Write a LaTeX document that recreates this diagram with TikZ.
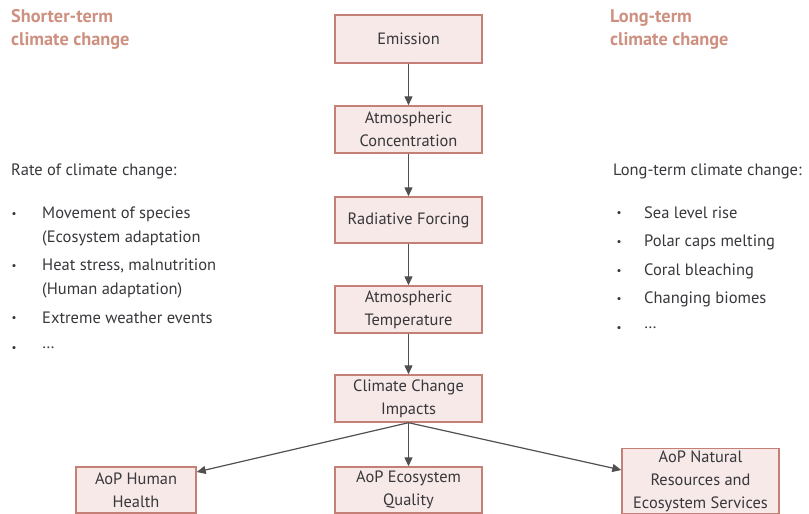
\documentclass[tikz,border=0pt]{standalone}
\usepackage{fontspec}
\setmainfont{PT Sans}
\usetikzlibrary{arrows.meta}
\definecolor{boxfill}{RGB}{246,233,231}
\definecolor{boxline}{RGB}{196,128,118}
\definecolor{titlecol}{RGB}{206,144,128}
\definecolor{txt}{RGB}{55,55,60}
\definecolor{arr}{RGB}{80,80,80}
\tikzset{
  flowbox/.style={draw=boxline, line width=1.4pt, fill=boxfill, align=center, text=txt,
    inner sep=1pt, font=\fontsize{16.4}{23}\selectfont},
  flowarrow/.style={draw=arr, line width=1.2pt, -{Triangle[length=9pt,width=8pt]}},
  headtxt/.style={anchor=north west, align=left, text=titlecol, inner sep=0pt,
    font=\bfseries\fontsize{18.3}{23.5}\selectfont},
  plain/.style={anchor=west, text=txt, inner sep=0pt, font=\fontsize{16.5}{23}\selectfont},
  bul/.style={anchor=center, text=txt, inner sep=0pt, font=\fontsize{11}{11}\selectfont}
}
\begin{document}
\begin{tikzpicture}[x=1pt,y=-1pt]
\useasboundingbox (0,0) rectangle (809,514);
% boxes
\node[flowbox, minimum width=147pt, minimum height=48pt] (em) at (408.5,39) {\raisebox{-2pt}{Emission}};
\node[flowbox, minimum width=147pt, minimum height=47pt] (ac) at (408.5,129.5) {Atmospheric\\Concentration};
\node[flowbox, minimum width=147pt, minimum height=46pt] (rf) at (408.5,220) {\raisebox{-2pt}{Radiative Forcing}};
\node[flowbox, minimum width=147pt, minimum height=47pt] (at) at (408.5,309.5) {Atmospheric\\Temperature};
\node[flowbox, minimum width=147pt, minimum height=47pt] (cc) at (408.5,398.5) {Climate Change\\Impacts};
\node[flowbox, minimum width=120pt, minimum height=46pt] (hh) at (136,490) {AoP Human\\Health};
\node[flowbox, minimum width=147pt, minimum height=46pt] (eq) at (408.5,490) {AoP Ecosystem\\Quality};
\node[flowbox, minimum width=157pt, minimum height=65pt, inner ysep=0pt] (nr) at (700.5,481) {AoP Natural\\Resources and\\Ecosystem Services};
% arrows
\draw[flowarrow] (em) -- (ac);
\draw[flowarrow] (ac) -- (rf);
\draw[flowarrow] (rf) -- (at);
\draw[flowarrow] (at) -- (cc);
\draw[flowarrow] (cc.south) -- (eq);
\draw[flowarrow] (cc.south) -- (hh.north east |- 0,472);
\draw[flowarrow] (cc.south) -- (nr.west |- 0,470);
% headings
\node[headtxt] (hl) at (11,9) {Shorter-term\\climate change};
\node[headtxt] (hr) at (610,9) {Long-term\\climate change};
% left list
\node[plain] (lt) at (11,171) {Rate of climate change:};
\foreach \y/\t [count=\i] in {214/Movement of species, 238/(Ecosystem adaptation, 266/{Heat stress, malnutrition}, 290/(Human adaptation), 318/Extreme weather events, 348/\dots}
  \node[plain] (l\i) at (42,\y) {\t};
\foreach \y/\n in {215/a,267/b,319/c,349/d}
  \node[bul] (lb\n) at (14,\y) {•};
% right list
\node[plain] (rt) at (613,171) {Long-term climate change:};
\foreach \y/\t [count=\i] in {213/Sea level rise, 242/Polar caps melting, 271/Coral bleaching, 299/Changing biomes, 328/\dots}
  \node[plain] (r\i) at (644,\y) {\t};
\foreach \y/\n in {214/a,243/b,272/c,300/d,329/e}
  \node[bul] (rb\n) at (619,\y) {•};
\end{tikzpicture}
\end{document}
